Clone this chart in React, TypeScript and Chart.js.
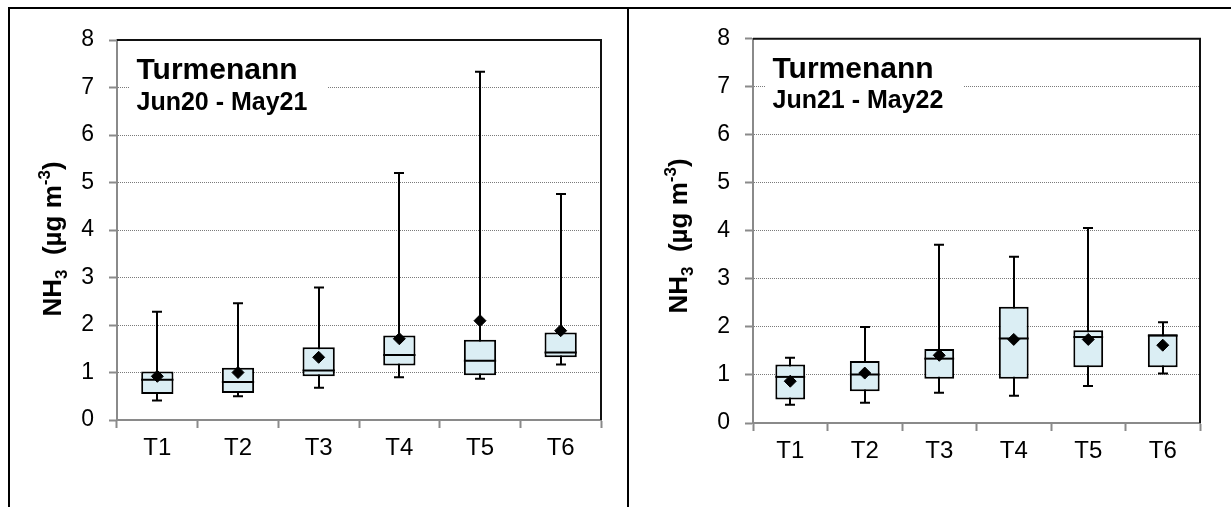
import React, { useEffect, useRef } from 'react';
import { Chart, registerables } from 'chart.js';

Chart.register(...registerables);

const categories = ['T1', 'T2', 'T3', 'T4', 'T5', 'T6'];
const yMin = 0;
const yMax = 8;

// Left panel: Jun20 - May21
const leftTitle = 'Turmenann';
const leftPeriod = 'Jun20 - May21';
const leftMin = [0.41, 0.5, 0.68, 0.9, 0.87, 1.17];
const leftQ1 = [0.55, 0.57, 0.92, 1.15, 0.94, 1.32];
const leftMedian = [0.85, 0.8, 1.04, 1.37, 1.25, 1.42];
const leftQ3 = [1.02, 1.1, 1.53, 1.78, 1.69, 1.84];
const leftMax = [2.28, 2.46, 2.79, 5.2, 7.33, 4.76];
const leftMean = [0.92, 1.0, 1.32, 1.71, 2.09, 1.88];

// Right panel: Jun21 - May22
const rightTitle = 'Turmenann';
const rightPeriod = 'Jun21 - May22';
const rightMin = [0.38, 0.42, 0.63, 0.57, 0.77, 1.03];
const rightQ1 = [0.49, 0.66, 0.92, 0.92, 1.16, 1.16];
const rightMedian = [0.96, 1.01, 1.34, 1.76, 1.79, 1.82];
const rightQ3 = [1.22, 1.29, 1.54, 2.42, 1.93, 1.85];
const rightMax = [1.36, 2.0, 3.71, 3.46, 4.06, 2.1];
const rightMean = [0.87, 1.04, 1.41, 1.74, 1.74, 1.62];

const FONT = "'Liberation Sans', Arial, Helvetica, sans-serif";

type PanelProps = {
  left: number;
  top: number;
  width: number;
  height: number;
  yAxisWidth: number;
  xAxisHeight: number;
  padRight: number;
  padTop: number;
  yTitleX: number;
  yTitleY: number;
  title: string;
  period: string;
  min: number[];
  q1: number[];
  median: number[];
  q3: number[];
  max: number[];
  mean: number[];
};

function makePlugin(p: PanelProps) {
  return {
    id: 'boxExtras',
    beforeDatasetsDraw(chart: any) {
      const { ctx, chartArea: a, scales } = chart;
      const x = scales.x;
      const y = scales.y;
      ctx.save();
      // title box
      ctx.fillStyle = '#ffffff';
      ctx.fillRect(a.left + 12, a.top + 6, 198, 72);
      ctx.fillStyle = '#000';
      ctx.textBaseline = 'alphabetic';
      ctx.textAlign = 'left';
      ctx.font = `bold 30px ${FONT}`;
      ctx.fillText(p.title, a.left + 19.5, a.top + 39);
      ctx.font = `bold 25px ${FONT}`;
      ctx.fillText(p.period, a.left + 19.5, a.top + 69.5);
      // whiskers + caps
      ctx.strokeStyle = '#000';
      ctx.lineWidth = 2;
      for (let i = 0; i < categories.length; i++) {
        const cx = Math.round(x.getPixelForValue(i));
        const yLo = y.getPixelForValue(p.min[i]);
        const yHi = y.getPixelForValue(p.max[i]);
        ctx.beginPath();
        ctx.moveTo(cx, yLo);
        ctx.lineTo(cx, yHi);
        ctx.moveTo(cx - 5, yLo);
        ctx.lineTo(cx + 5, yLo);
        ctx.moveTo(cx - 5, yHi);
        ctx.lineTo(cx + 5, yHi);
        ctx.stroke();
      }
      ctx.restore();
    },
    afterDatasetDraw(chart: any, args: any) {
      if (args.index !== 1) return;
      const { ctx, scales } = chart;
      const y = scales.y;
      const meta = chart.getDatasetMeta(1);
      ctx.save();
      ctx.strokeStyle = '#000';
      ctx.lineWidth = 2;
      meta.data.forEach((bar: any, i: number) => {
        const w = bar.width;
        const my = y.getPixelForValue(p.median[i]);
        ctx.beginPath();
        ctx.moveTo(bar.x - w / 2, my);
        ctx.lineTo(bar.x + w / 2, my);
        ctx.stroke();
      });
      ctx.restore();
    },
    afterDraw(chart: any) {
      const { ctx, chartArea: a } = chart;
      ctx.save();
      // top and right frame
      ctx.strokeStyle = '#111';
      ctx.lineWidth = 2;
      ctx.beginPath();
      ctx.moveTo(a.left, a.top);
      ctx.lineTo(a.right, a.top);
      ctx.lineTo(a.right, a.bottom);
      ctx.stroke();
      // y-axis title with sub/superscript
      const pieces = [
        { t: 'NH', s: 26, dy: 0 },
        { t: '3', s: 17, dy: 6 },
        { t: '  (\u00b5g m', s: 26, dy: 0 },
        { t: '-3', s: 17, dy: -11 },
        { t: ')', s: 26, dy: 0 },
      ];
      let total = 0;
      for (const pc of pieces) {
        ctx.font = `bold ${pc.s}px ${FONT}`;
        total += ctx.measureText(pc.t).width;
      }
      ctx.translate(p.yTitleX, p.yTitleY);
      ctx.rotate(-Math.PI / 2);
      ctx.fillStyle = '#000';
      ctx.textBaseline = 'alphabetic';
      ctx.textAlign = 'left';
      let cur = -total / 2;
      for (const pc of pieces) {
        ctx.font = `bold ${pc.s}px ${FONT}`;
        ctx.fillText(pc.t, cur, 9 + pc.dy);
        cur += ctx.measureText(pc.t).width;
      }
      ctx.restore();
    },
  };
}

function Panel(p: PanelProps) {
  const ref = useRef<HTMLCanvasElement | null>(null);
  useEffect(() => {
    if (!ref.current) return;
    const chart = new Chart(ref.current, {
      data: {
        labels: categories,
        datasets: [
          {
            type: 'line',
            label: 'Mean',
            data: p.mean,
            showLine: false,
            pointStyle: 'rectRot',
            pointRadius: 6,
            pointBackgroundColor: '#000',
            pointBorderColor: '#000',
            pointBorderWidth: 1,
            order: 0,
          } as any,
          {
            type: 'bar',
            label: 'IQR',
            data: p.q1.map((v, i) => [v, p.q3[i]]),
            backgroundColor: '#DBEEF4',
            borderColor: '#000',
            borderWidth: 2,
            borderSkipped: false,
            barPercentage: 0.4,
            categoryPercentage: 1,
            order: 1,
          } as any,
        ],
      },
      options: {
        animation: false,
        responsive: false,
        maintainAspectRatio: false,
        layout: { padding: { left: 0, right: p.padRight, top: p.padTop, bottom: 0 } },
        plugins: {
          legend: { display: false },
          tooltip: { enabled: false },
          title: { display: false },
        },
        scales: {
          x: {
            type: 'category',
            offset: true,
            grid: {
              offset: true,
              drawOnChartArea: false,
              drawTicks: true,
              tickLength: 8,
              tickColor: '#8a8a8a',
              tickWidth: 2,
            },
            border: { color: '#8a8a8a', width: 2 },
            ticks: { color: '#000', font: { family: FONT, size: 24 }, padding: 6, autoSkip: false, maxRotation: 0 },
            afterFit: (s: any) => {
              s.height = p.xAxisHeight;
            },
          },
          y: {
            type: 'linear',
            min: yMin,
            max: yMax,
            ticks: { stepSize: 1, color: '#000', font: { family: FONT, size: 23 }, padding: 15 },
            grid: {
              color: (c: any) => (c.tick && c.tick.value > yMin && c.tick.value < yMax ? '#7a7a7a' : 'rgba(0,0,0,0)'),
              lineWidth: 1,
              tickColor: '#8a8a8a',
              tickLength: 8,
              tickWidth: 2,
            },
            border: { color: '#8a8a8a', width: 2, dash: [1, 1] },
            afterFit: (s: any) => {
              s.width = p.yAxisWidth;
            },
          },
        },
      } as any,
      plugins: [makePlugin(p)],
    });
    return () => chart.destroy();
  }, []);
  return (
    <canvas
      ref={ref}
      width={p.width}
      height={p.height}
      style={{ position: 'absolute', left: p.left, top: p.top, width: p.width, height: p.height, display: 'block' }}
    />
  );
}

export default function App() {
  return (
    <div style={{ position: 'absolute', left: 0, top: 0, width: 1231, height: 507, background: '#fff', overflow: 'hidden' }}>
      <div style={{ position: 'absolute', left: 8, top: 7, width: 1223, height: 2, background: '#000' }} />
      <div style={{ position: 'absolute', left: 8, top: 7, width: 2, height: 500, background: '#000' }} />
      <div style={{ position: 'absolute', left: 627, top: 7, width: 2, height: 500, background: '#000' }} />
      <Panel
        left={10}
        top={10}
        width={616}
        height={497}
        yAxisWidth={107}
        xAxisHeight={87}
        padRight={25}
        padTop={30}
        yTitleX={41.5}
        yTitleY={229}
        title={leftTitle}
        period={leftPeriod}
        min={leftMin}
        q1={leftQ1}
        median={leftMedian}
        q3={leftQ3}
        max={leftMax}
        mean={leftMean}
      />
      <Panel
        left={630}
        top={10}
        width={601}
        height={497}
        yAxisWidth={123}
        xAxisHeight={84}
        padRight={31}
        padTop={24}
        yTitleX={48}
        yTitleY={226}
        title={rightTitle}
        period={rightPeriod}
        min={rightMin}
        q1={rightQ1}
        median={rightMedian}
        q3={rightQ3}
        max={rightMax}
        mean={rightMean}
      />
    </div>
  );
}
